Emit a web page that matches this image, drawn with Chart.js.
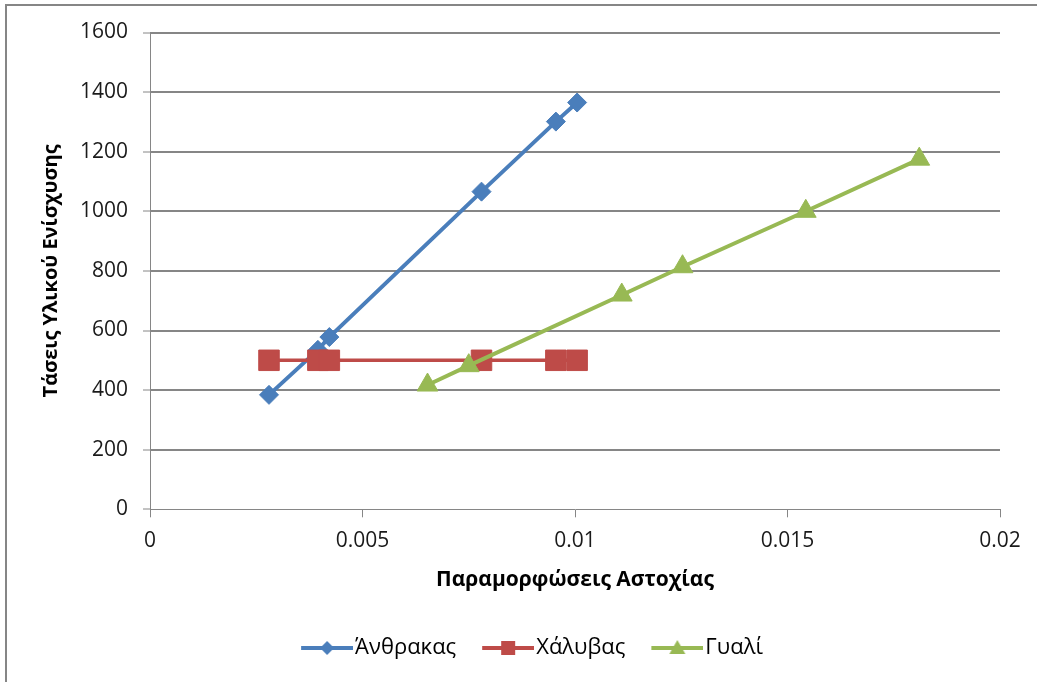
<!DOCTYPE html>
<html>
<head>
<meta charset="utf-8">
<script src="https://cdn.jsdelivr.net/npm/chart.js@4"></script>
<style>
html, body { margin: 0; padding: 0; background: #fff; }
</style>
</head>
<body>
<canvas id="myChart" width="1037" height="682"></canvas>
<script>
const seriesNames = ["Άνθρακας", "Χάλυβας", "Γυαλί"];

const carbonStrain = [0.0028, 0.00395, 0.00422, 0.0078, 0.00955, 0.01005];
const carbonStress = [384, 535, 578, 1066, 1301, 1365];

const steelStrain = [0.0028, 0.00395, 0.00422, 0.0078, 0.00955, 0.01005];
const steelStress = [500, 500, 500, 500, 500, 500];

const glassStrain = [0.00653, 0.0075, 0.0111, 0.01253, 0.01543, 0.0181];
const glassStress = [417, 482, 719, 814, 1000, 1175];

const xTickLabels = ["0", "0.005", "0.01", "0.015", "0.02"];
const yTickLabels = ["0", "200", "400", "600", "800", "1000", "1200", "1400", "1600"];

const xTitle = "Παραμορφώσεις Αστοχίας";
const yTitle = "Τάσεις Υλικού Ενίσχυσης";

const BLUE = "#4a7ebb";
const RED = "#be4b48";
const GREEN = "#98b954";
const GRID = "#868686";

Chart.defaults.font.family = "'Open Sans', 'Noto Sans', sans-serif";
Chart.defaults.color = "#1a1a1a";

function toPoints(xs, ys) {
    return xs.map((x, i) => ({ x: x, y: ys[i] }));
}

// small canvas used as legend symbol: line with marker in the middle
function legendSymbol(color, shape) {
    const c = document.createElement("canvas");
    c.width = 73;
    c.height = 18;
    const g = c.getContext("2d");
    g.strokeStyle = color;
    g.fillStyle = color;
    g.lineWidth = 4;
    g.beginPath();
    g.moveTo(21, 9);
    g.lineTo(73, 9);
    g.stroke();
    const cx = 47, cy = 9;
    g.beginPath();
    if (shape === "diamond") {
        g.moveTo(cx, cy - 7);
        g.lineTo(cx + 7, cy);
        g.lineTo(cx, cy + 7);
        g.lineTo(cx - 7, cy);
    } else if (shape === "square") {
        g.rect(cx - 7, cy - 7, 14, 14);
    } else {
        g.moveTo(cx, cy - 8);
        g.lineTo(cx + 8, cy + 6);
        g.lineTo(cx - 8, cy + 6);
    }
    g.closePath();
    g.fill();
    return c;
}

const legendImages = [
    legendSymbol(BLUE, "diamond"),
    legendSymbol(RED, "square"),
    legendSymbol(GREEN, "triangle"),
];

const frame = {
    id: "frame",
    beforeDraw(chart) {
        const g = chart.ctx;
        g.save();
        g.fillStyle = "#fff";
        g.fillRect(0, 0, chart.width, chart.height);
        g.strokeStyle = GRID;
        g.lineWidth = 2;
        g.beginPath();
        g.moveTo(6, chart.height);
        g.lineTo(6, 5);
        g.lineTo(chart.width, 5);
        g.stroke();
        g.restore();
    },
    // legend sits a bit right of the plot centre in the original
    afterLayout(chart) {
        if (chart.legend) {
            chart.legend.left += 26;
            chart.legend.right += 26;
        }
    },
};

const data = {
    datasets: [
        {
            label: seriesNames[0],
            data: toPoints(carbonStrain, carbonStress),
            borderColor: BLUE,
            backgroundColor: BLUE,
            borderWidth: 4,
            pointStyle: "rectRot",
            pointRadius: 9.5,
            pointBorderWidth: 1,
            order: 3,
        },
        {
            label: seriesNames[1],
            data: toPoints(steelStrain, steelStress),
            borderColor: RED,
            backgroundColor: RED,
            borderWidth: 3.5,
            pointStyle: "rect",
            pointRadius: 14.5,
            pointBorderWidth: 1,
            order: 2,
        },
        {
            label: seriesNames[2],
            data: toPoints(glassStrain, glassStress),
            borderColor: GREEN,
            backgroundColor: GREEN,
            borderWidth: 4,
            pointStyle: "triangle",
            pointRadius: 12,
            pointBorderWidth: 1,
            order: 1,
        },
    ],
};

const config = {
    type: "scatter",
    data: data,
    plugins: [frame],
    options: {
        responsive: false,
        animation: false,
        showLine: true,
        layout: {
            padding: { left: 0, right: 37, top: 32.5, bottom: 13 },
        },
        scales: {
            x: {
                type: "linear",
                min: 0,
                max: 0.02,
                afterFit(scale) {
                    scale.height = 113.7;
                },
                ticks: {
                    stepSize: 0.005,
                    padding: 11.5,
                    font: { size: 21 },
                    color: "#1a1a1a",
                    callback: (v, i) => xTickLabels[i],
                },
                grid: {
                    drawOnChartArea: false,
                    drawTicks: true,
                    tickLength: 8,
                    tickColor: GRID,
                    tickWidth: 1,
                },
                border: { color: GRID, width: 1 },
                title: {
                    display: true,
                    text: xTitle,
                    font: { size: 21, weight: "bold" },
                    color: "#000",
                    padding: { top: 0, bottom: 30.4 },
                },
            },
            y: {
                min: 0,
                max: 1600,
                afterFit(scale) {
                    scale.width = 150;
                },
                ticks: {
                    stepSize: 200,
                    padding: 15,
                    font: { size: 21 },
                    color: "#1a1a1a",
                    callback: (v, i) => yTickLabels[i],
                },
                grid: {
                    color: (ctx) => (ctx.index === 0 ? "rgba(0,0,0,0)" : GRID),
                    lineWidth: 2,
                    drawTicks: true,
                    tickLength: 7,
                    tickColor: GRID,
                    tickWidth: 1,
                },
                border: { color: GRID, width: 1 },
                title: {
                    display: true,
                    text: yTitle,
                    font: { size: 20, weight: "bold" },
                    color: "#000",
                    padding: { top: 39, bottom: 0 },
                },
            },
        },
        plugins: {
            tooltip: { enabled: false },
            legend: {
                position: "bottom",
                labels: {
                    usePointStyle: true,
                    pointStyleWidth: 55,
                    padding: 14,
                    font: { size: 22 },
                    color: "#000",
                    generateLabels(chart) {
                        const items = Chart.defaults.plugins.legend.labels.generateLabels(chart);
                        items.sort((a, b) => a.datasetIndex - b.datasetIndex);
                        items.forEach((it) => {
                            it.pointStyle = legendImages[it.datasetIndex];
                        });
                        return items;
                    },
                },
            },
        },
    },
};

new Chart(document.getElementById("myChart"), config);
</script>
</body>
</html>
